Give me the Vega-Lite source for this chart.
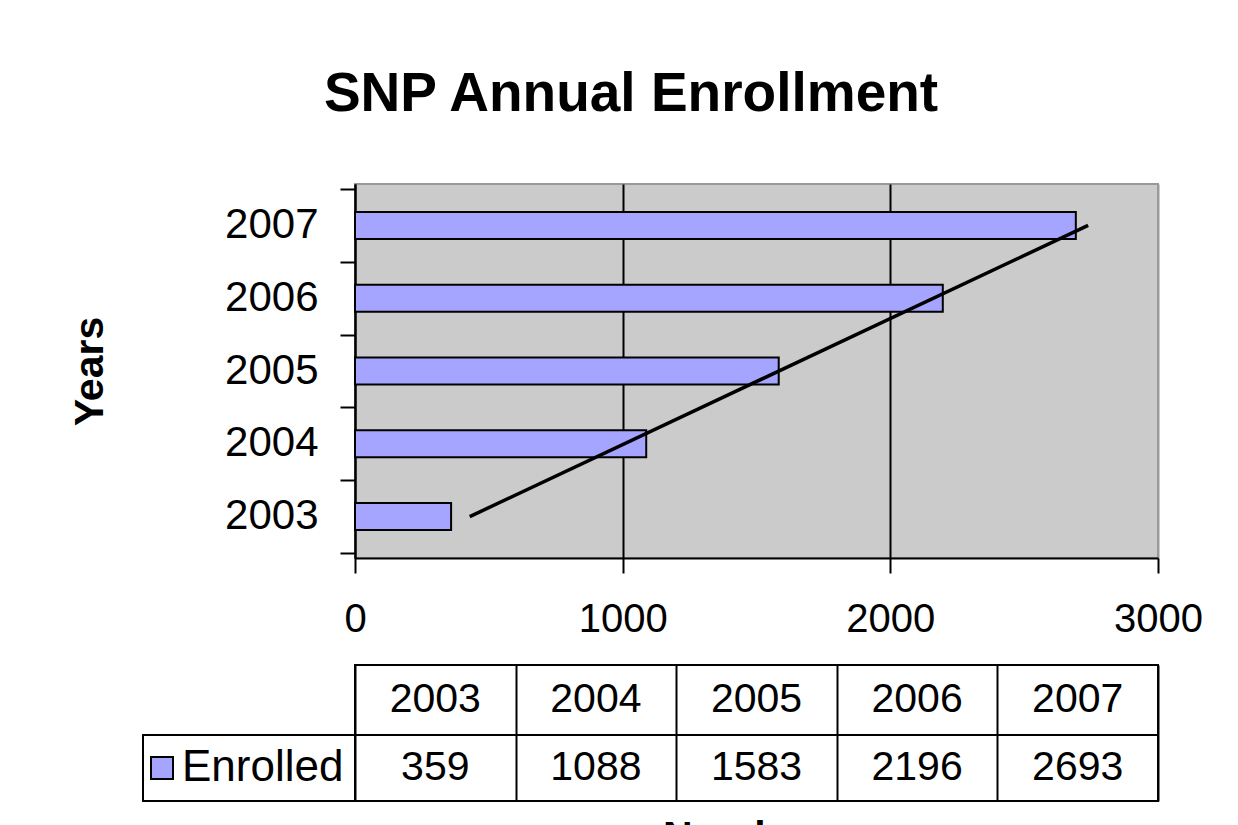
{
  "$schema": "https://vega.github.io/schema/vega-lite/v6.json",
  "background": "white",
  "padding": {"left": 68, "top": 67, "right": 0, "bottom": 0},
  "title": {"text": "SNP Annual Enrollment", "font": "Liberation Sans", "fontSize": 55, "fontWeight": "bold", "color": "black", "anchor": "middle", "offset": 60, "dx": -5},
  "data": {"values": [
    {"year": 2003, "enrolled": 359},
    {"year": 2004, "enrolled": 1088},
    {"year": 2005, "enrolled": 1583},
    {"year": 2006, "enrolled": 2196},
    {"year": 2007, "enrolled": 2693}
  ]},
  "spacing": 107,
  "bounds": "flush",
  "resolve": {"scale": {"fill": "independent"}, "legend": {"fill": "independent"}},
  "vconcat": [
    {
      "width": 803,
      "height": 374,
      "view": {"fill": "#cbcbcb", "stroke": "#999999", "strokeWidth": 2},
      "layer": [
        {
          "mark": {"type": "bar", "orient": "horizontal", "height": 27, "fill": "#a5a5ff", "stroke": "black", "strokeWidth": 2},
          "encoding": {
            "x": {"field": "enrolled", "type": "quantitative", "scale": {"domain": [0, 3000], "nice": false},
              "axis": {"values": [0, 1000, 2000, 3000], "format": "d", "grid": true,
                "gridColor": {"condition": {"test": "datum.value >= 3000", "value": "#999999"}, "value": "black"},
                "gridWidth": 2, "domainColor": "black", "domainWidth": 2, "tickColor": "black", "tickWidth": 2, "tickSize": 15,
                "labelFont": "Liberation Sans", "labelFontSize": 40, "labelColor": "black", "labelPadding": 26, "labelFlush": false, "title": null}},
            "y": {"field": "year", "type": "quantitative", "scale": {"domain": [2002.5, 2007.5], "nice": false, "zero": false},
              "axis": {"values": [2002.5, 2003.5, 2004.5, 2005.5, 2006.5, 2007.5],
                "labelExpr": "datum.value > 2007 ? '' : format(datum.value + 0.5, 'd')",
                "labelOffset": -37.4, "grid": false, "domainColor": "black", "domainWidth": 2, "tickColor": "black", "tickWidth": 2, "tickSize": 15,
                "labelFont": "Liberation Sans", "labelFontSize": 42, "labelColor": "black", "labelPadding": 22,
                "title": "Years", "titleFont": "Liberation Sans", "titleFontSize": 41, "titleFontWeight": "bold", "titleColor": "black", "titlePadding": 113}}
          }
        },
        {
          "transform": [{"regression": "enrolled", "on": "year"}],
          "mark": {"type": "line", "color": "black", "strokeWidth": 3.5},
          "encoding": {
            "x": {"field": "enrolled", "type": "quantitative"},
            "y": {"field": "year", "type": "quantitative"}
          }
        }
      ]
    },
    {
      "spacing": 0,
      "bounds": "flush",
      "resolve": {"scale": {"fill": "independent"}, "legend": {"fill": "independent"}},
      "vconcat": [
        {
          "width": 803,
          "height": 70,
          "view": {"fill": "white", "stroke": "black", "strokeWidth": 2},
          "mark": {"type": "text", "font": "Liberation Sans", "fontSize": 41, "color": "black"},
          "encoding": {
            "x": {"field": "year", "type": "ordinal", "scale": {"paddingInner": 0, "paddingOuter": 0},
              "axis": {"orient": "top", "grid": true, "tickBand": "extent", "gridColor": "black", "gridWidth": 2, "labels": false, "ticks": false, "domain": false, "title": null}},
            "text": {"field": "year", "type": "nominal"}
          }
        },
        {
          "width": 803,
          "height": 66,
          "view": {"fill": "white", "stroke": "black", "strokeWidth": 2},
          "layer": [
            {
              "mark": {"type": "text", "font": "Liberation Sans", "fontSize": 41, "color": "black"},
              "encoding": {
                "x": {"field": "year", "type": "ordinal", "scale": {"paddingInner": 0, "paddingOuter": 0},
                  "axis": {"orient": "bottom", "grid": true, "tickBand": "extent", "gridColor": "black", "gridWidth": 2, "labels": false, "ticks": false, "domain": false,
                    "title": "Number", "titleFont": "Liberation Sans", "titleFontSize": 41, "titleFontWeight": "bold", "titleColor": "black", "titlePadding": 16, "titleX": 385}},
                "text": {"field": "enrolled", "type": "nominal"}
              }
            },
            {
              "mark": {"type": "point", "shape": "square", "opacity": 0},
              "encoding": {
                "x": {"field": "year", "type": "ordinal"},
                "fill": {"datum": "Enrolled", "type": "nominal", "scale": {"range": ["#a5a5ff"]},
                  "legend": {"orient": "left", "offset": 0, "title": null,
                    "padding": 11, "strokeColor": "black",
                    "symbolType": "square", "symbolSize": 484, "symbolStrokeColor": "black", "symbolStrokeWidth": 2, "symbolOpacity": 1, "symbolFillColor": "#a5a5ff", "symbolOffset": -14,
                    "labelFont": "Liberation Sans", "labelFontSize": 44, "labelColor": "black", "labelOffset": -2, "labelLimit": 400}}
              }
            }
          ]
        }
      ]
    }
  ],
  "config": {
    "font": "Liberation Sans",
    "legend": {"strokeWidth": 2}
  }
}
